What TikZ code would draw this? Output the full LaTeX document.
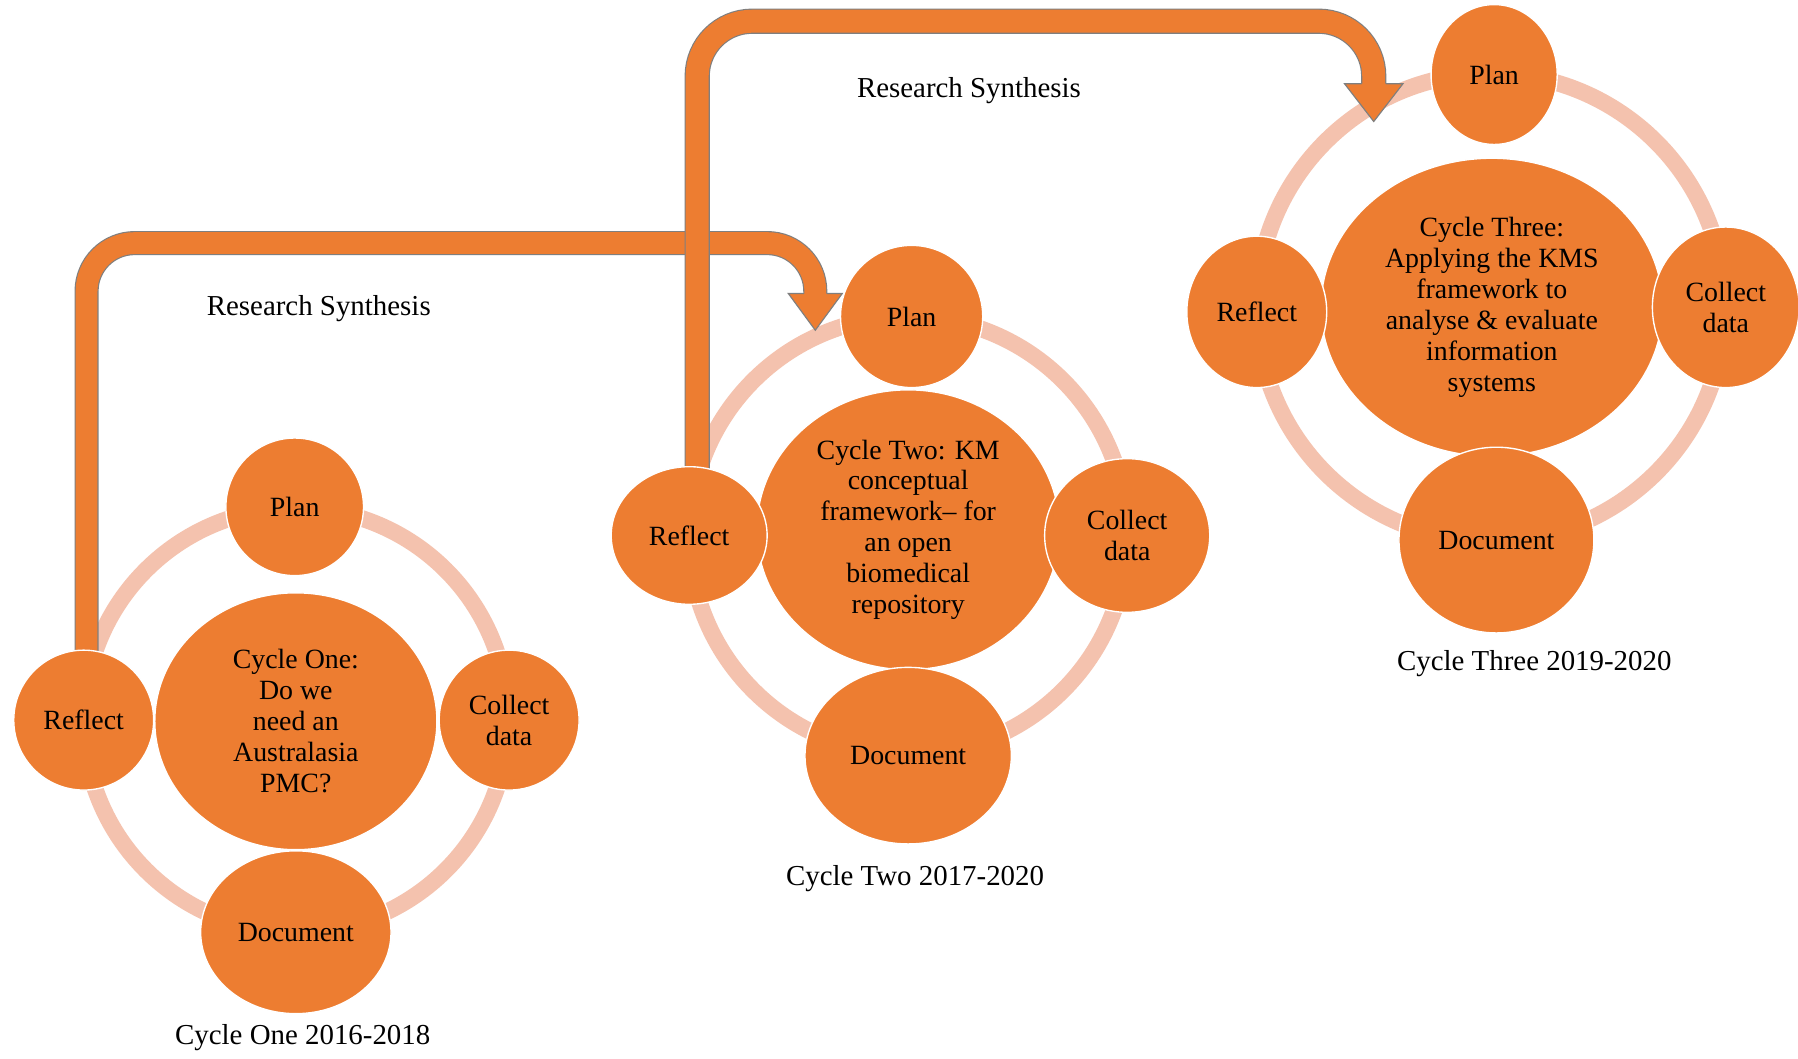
\documentclass[tikz,border=0pt]{standalone}
\usepackage{fontspec}
\setmainfont{Liberation Serif}
\usetikzlibrary{shapes.geometric,backgrounds}
\definecolor{acc}{HTML}{ED7D31}
\definecolor{ringc}{HTML}{F4C2AE}
\definecolor{edgec}{HTML}{7F7F7F}
\begin{document}
\begin{tikzpicture}[x=1pt,y=1pt,
  ringline/.style={draw=ringc, line width=14.5},
  blob/.style={ellipse, fill=acc, draw=white, line width=1.2, inner sep=0pt, align=center,
    font=\fontsize{24.3}{27}\selectfont, text=black},
  lbl/.style={font=\fontsize{25.2}{27}\selectfont, text=black, inner sep=0pt},
  shaftA/.style={draw=edgec, line width=21, rounded corners=42, postaction={draw=acc, line width=19}},
  shaftB/.style={draw=edgec, line width=22, rounded corners=48, postaction={draw=acc, line width=20}},
  wing/.style={draw=edgec, line width=1}
  ]
\useasboundingbox (0,0) rectangle (1568,923);

% Cycle One
\node[blob, minimum width=246, minimum height=224] (c1) at (258,294) {Cycle One:\\Do we\\need an\\Australasia\\PMC?};
\node[blob, minimum width=120, minimum height=120] (p1) at (257,481) {Plan};
\node[blob, minimum width=122, minimum height=122] (k1) at (444,295) {Collect\\data};
\node[blob, minimum width=166, minimum height=142] (d1) at (258,110) {Document};
\node[blob, minimum width=122, minimum height=122] (r1) at (73,295) {Reflect};
\node[lbl] (l1) at (264,18) {Cycle One 2016-2018};

% Cycle Two
\node[blob, minimum width=264, minimum height=244] (c2) at (792,461) {Cycle Two: KM\\conceptual\\framework– for\\an open\\biomedical\\repository};
\node[blob, minimum width=124, minimum height=124] (p2) at (795,647) {Plan};
\node[blob, minimum width=144, minimum height=134] (k2) at (983,456) {Collect\\data};
\node[blob, minimum width=180, minimum height=154] (d2) at (792,264) {Document};
\node[blob, minimum width=136, minimum height=120] (r2) at (601,456) {Reflect};
\node[lbl] (l2) at (798,157) {Cycle Two 2017-2020};

% Cycle Three
\node[blob, minimum width=298, minimum height=260] (c3) at (1301,655) {Cycle Three:\\Applying the KMS\\framework to\\analyse \& evaluate\\information\\systems};
\node[blob, minimum width=110, minimum height=122] (p3) at (1303,858) {Plan};
\node[blob, minimum width=128, minimum height=140] (k3) at (1505,655) {Collect\\data};
\node[blob, minimum width=170, minimum height=162] (d3) at (1305,452) {Document};
\node[blob, minimum width=122, minimum height=132] (r3) at (1096,651) {Reflect};
\node[lbl] (l3) at (1338,344) {Cycle Three 2019-2020};

% Research synthesis labels
\node[lbl] (rs1) at (278,654) {Research Synthesis};
\node[lbl] (rs2) at (845,844) {Research Synthesis};

% arrow end points
\coordinate (a1s) at ([xshift=2.5,yshift=-3]r1.north);
\coordinate (h1) at (711,667);
\coordinate (t1) at (711,635);
\coordinate (a2s) at ([xshift=7,yshift=-3]r2.north);
\coordinate (h2) at (1198,850);
\coordinate (t2) at (1198,817);

\begin{scope}[on background layer]
  \fill[white] (0,0) rectangle (1568,923);
  \draw[ringline] ([yshift=1]c1.center) circle (185);
  \draw[ringline] ([yshift=-5]c2.center) circle (191);
  \draw[ringline] ([xshift=-1]c3.center) circle (204);

  % arrow 1
  \path[shaftA] (a1s) -- (a1s |- 0,711) -- (h1 |- 0,711) -- ([yshift=-1]h1);
  \fill[acc] (h1) ++(-23.5,0) -- (t1) -- ++(23.5,32) -- cycle;
  \draw[wing] (h1) ++(-10,0) -- ++(-13.5,0) -- (t1) -- ++(23.5,32) -- ++(-13.5,0);

  % arrow 2
  \path[shaftB] (a2s) -- (a2s |- 0,904.5) -- (h2 |- 0,904.5) -- ([yshift=-1]h2);
  \fill[acc] (h2) ++(-25.5,0) -- (t2) -- ++(25.5,33) -- cycle;
  \draw[wing] (h2) ++(-10.5,0) -- ++(-15,0) -- (t2) -- ++(25.5,33) -- ++(-15,0);
\end{scope}
\end{tikzpicture}
\end{document}
